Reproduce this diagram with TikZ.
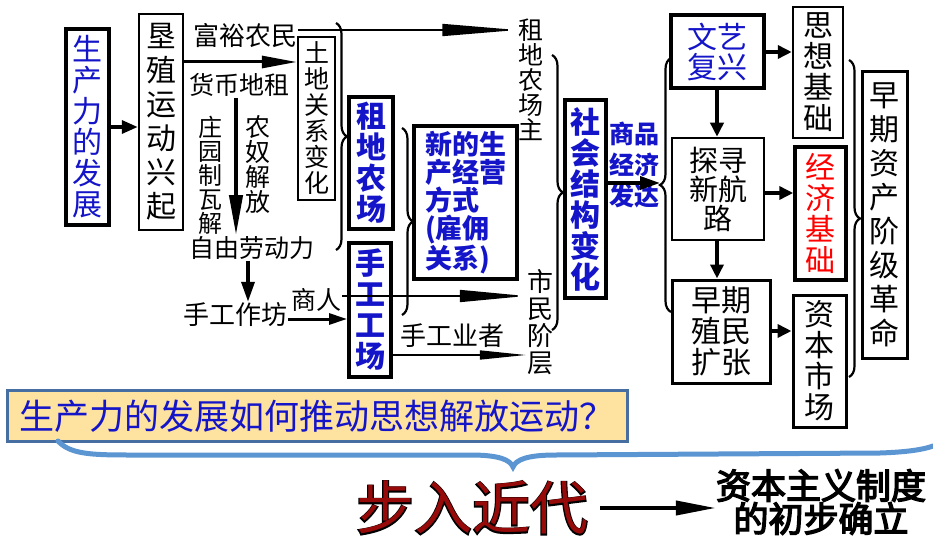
\documentclass[tikz,border=0pt]{standalone}
\usepackage{fontspec}
\setmainfont{Noto Sans CJK SC}
\newfontfamily\cjkfb[FakeBold=4]{Noto Sans CJK SC}
\usetikzlibrary{arrows.meta,decorations.pathreplacing}
\definecolor{dblue}{RGB}{20,20,200}
\definecolor{dred}{RGB}{150,10,10}
\definecolor{qfill}{RGB}{253,226,160}
\definecolor{qborder}{RGB}{70,110,160}
\definecolor{bbl}{RGB}{91,150,210}
\tikzset{
  boxA/.style={draw, line width=2.5pt, inner sep=0pt, align=center},
  boxB/.style={boxA, line width=4pt},
  lbl/.style={inner sep=1pt, align=center},
  arrK/.style={line width=3.5pt, -{Triangle[length=14pt,width=13pt]}},
  arrL/.style={line width=3pt, -{Triangle[length=35pt,width=12pt]}},
  arrT/.style={line width=1.5pt, -{Triangle[length=#1,width=12pt]}},
  brc/.style={decorate, decoration={brace, amplitude=11pt}, line width=2.2pt},
}
\begin{document}
\begin{tikzpicture}[x=1pt,y=-1pt]
\useasboundingbox[fill=white] (0,0) rectangle (933,537);
% heights
\coordinate (h30) at (0,30);
\coordinate (h62) at (0,62);
\coordinate (h296) at (0,296);
\coordinate (h319) at (0,319);
\coordinate (h355) at (0,355);
\coordinate (h183) at (0,183);
\coordinate (h52) at (0,52);
\coordinate (h193) at (0,193);
\coordinate (h331) at (0,331);
\coordinate (h508) at (0,508);
\coordinate (x236) at (236,0);
\coordinate (x248) at (248,0);
\coordinate (x717) at (717,0);
\coordinate (bt) at (660,183);

% boxes
\node[boxB, minimum width=43, minimum height=196, text=dblue, font=\fontsize{30}{31}\selectfont] (sc) at (87.5,127) {生\\产\\力\\的\\发\\展};
\node[boxA, minimum width=44, minimum height=216, font=\fontsize{30}{34}\selectfont] (kz) at (161,122) {垦\\殖\\运\\动\\兴\\起};
\node[boxA, minimum width=37, minimum height=163, font=\fontsize{25}{26}\selectfont] (td) at (316.5,118.5) {土\\地\\关\\系\\变\\化};
\node[boxB, minimum width=44, minimum height=132, text=dblue, font=\bfseries\fontsize{30}{31}\selectfont] (zd) at (371,163) {租\\地\\农\\场};
\node[boxB, minimum width=42, minimum height=134, text=dblue, font=\bfseries\fontsize{30}{31}\selectfont] (sg) at (370,310) {手\\工\\工\\场};
\node[boxB, minimum width=103, minimum height=153, text=dblue, font=\bfseries\fontsize{27}{28}\selectfont, align=left] (xd) at (465.5,202.5) {新的生\\产经营\\方式\\(雇佣\\关系)};
\node[boxB, minimum width=41, minimum height=198, text=dblue, font=\bfseries\fontsize{30}{31}\selectfont] (sh) at (585.5,199) {社\\会\\结\\构\\变\\化};
\node[boxB, minimum width=93, minimum height=73, text=dblue, font=\fontsize{30}{30}\selectfont] (wy) at (717.5,51.5) {文艺\\复兴};
\node[boxA, minimum width=50, minimum height=131, font=\fontsize{30}{31}\selectfont] (sx) at (818,72.5) {思\\想\\基\\础};
\node[boxA, minimum width=92, minimum height=102, font=\fontsize{29}{29}\selectfont] (tx) at (718,189) {探寻\\新航\\路};
\node[boxB, line width=3.5pt, minimum width=51, minimum height=133, text=red, font=\fontsize{30}{31}\selectfont] (jj) at (820.5,213.5) {经\\济\\基\\础};
\node[boxA, line width=3pt, minimum width=98, minimum height=103, font=\fontsize{30}{31}\selectfont] (zq) at (721,331.5) {早期\\殖民\\扩张};
\node[boxA, line width=3pt, minimum width=53, minimum height=132, font=\fontsize{30}{31}\selectfont] (zb) at (819.5,361) {资\\本\\市\\场};
\node[boxA, line width=3pt, minimum width=45, minimum height=286, font=\fontsize{30}{34}\selectfont] (gm) at (884.5,215) {早\\期\\资\\产\\阶\\级\\革\\命};

% labels
\node[lbl, font=\fontsize{26}{26}\selectfont] (fy) at (245,36) {富裕农民};
\node[lbl, font=\fontsize{25}{25}\selectfont] (hb) at (239,85) {货币地租};
\node[lbl, font=\fontsize{24}{24}\selectfont] (zy) at (210,175) {庄\\园\\制\\瓦\\解};
\node[lbl, font=\fontsize{25}{25}\selectfont] (nn) at (258,165) {农\\奴\\解\\放};
\node[lbl, font=\fontsize{25}{25}\selectfont] (zl) at (252,248) {自由劳动力};
\node[lbl, font=\fontsize{26}{26}\selectfont] (zf) at (235,315) {手工作坊};
\node[lbl, font=\fontsize{25}{25}\selectfont] (sr) at (316,300) {商人};
\node[lbl, font=\fontsize{26}{26}\selectfont] (sy) at (452,336) {手工业者};
\node[lbl, font=\fontsize{25}{25}\selectfont] (zz) at (531,80) {租\\地\\农\\场\\主};
\node[lbl, font=\fontsize{26}{27}\selectfont] (sm) at (540,322) {市\\民\\阶\\层};
\node[lbl, text=dblue, font=\bfseries\fontsize{25}{31}\selectfont] (sp) at (634,165) {商品\\经济\\发达};

% arrows
\draw[arrK, -{Triangle[length=16pt,width=13pt]}] (sc.east) -- (kz.west |- sc.east);
\draw[arrL] (kz.east |- h62) -- (td.west |- h62);
\draw[arrT=75pt] (fy.east |- h30) -- (zz.west |- h30);
\draw[line width=4pt, -{Triangle[length=40pt,width=13pt]}] (x236 |- hb.south) -- (x236 |- zl.north);
\draw[line width=3.5pt, -{Triangle[length=20pt,width=13pt]}] (x248 |- zl.south) -- (x248 |- zf.north);
\draw[line width=3pt, -{Triangle[length=18pt,width=11pt]}] (zf.east |- h319) -- (sg.west |- h319);
\draw[arrT=66pt] (sr.east |- h296) -- (sm.west |- h296);
\draw[arrT=46pt, -{Triangle[length=46pt,width=9pt]}] (sg.east |- h355) -- (sm.west |- h355);
\draw[line width=3.5pt, -{Triangle[length=20pt,width=13pt]}] (sh.east |- h183) -- (bt);
\draw[arrK] (wy.east |- h52) -- (sx.west |- h52);
\draw[arrK] (x717 |- wy.south) -- (x717 |- tx.north);
\draw[arrK] (tx.east |- h193) -- (jj.west |- h193);
\draw[arrK] (x717 |- tx.south) -- (x717 |- zq.north);
\draw[arrK] (zq.east |- h331) -- (zb.west |- h331);

% braces
\draw[brc] (336,23) -- (336,250);
\draw[brc] (402,128) -- (402,315);
\draw[brc] (552,55) -- (552,330);
\draw[brc] (671,312) -- (671,58);
\draw[brc] (849,60) -- (849,377);

% question
\node[draw=qborder, fill=qfill, line width=3pt, minimum width=620, minimum height=51, inner sep=0pt, text=dblue, font=\fontsize{35}{36}\selectfont] (q) at (317,416) {生产力的发展如何推动思想解放运动？};
\draw[bbl, line width=5pt, line cap=round] (58,441) .. controls (70,454) and (90,455) .. (130,455) -- (470,455) .. controls (500,455) and (510,460) .. (513,467) .. controls (516,460) and (526,455) .. (556,455) -- (880,453) .. controls (910,452) and (925,449) .. (933,446);

% bottom
\node[lbl, inner sep=0pt, text=black, font=\cjkfb\fontsize{58}{60}\selectfont] (bj) at (472,508) {步入近代};
\node[lbl, inner sep=0pt, text=dred, font=\fontsize{58}{60}\selectfont] (bj2) at (bj.center) {步入近代};
\node[lbl, inner sep=0pt, font=\cjkfb\fontsize{35}{33}\selectfont] (zbzy) at (821,502) {资本主义制度\\的初步确立};
\draw[line width=4pt, -{Triangle[length=40pt,width=14pt]}, shorten <=12pt] (bj.east |- h508) -- (zbzy.west |- h508);
\end{tikzpicture}
\end{document}
